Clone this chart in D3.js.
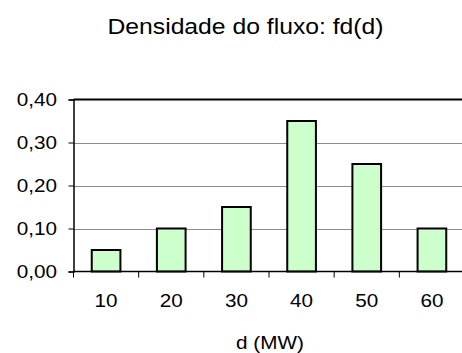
<!DOCTYPE html>
<html>
<head>
<meta charset="utf-8">
<script src="https://cdn.jsdelivr.net/npm/d3@7"></script>
<style>
  html, body { margin: 0; padding: 0; background: #fff; }
  svg { display: block; }
  text { font-family: "Liberation Sans", Arial, sans-serif; fill: #000; }
</style>
</head>
<body>
<script>
// Flow density by demand level
const categories = ["10", "20", "30", "40", "50", "60"];
const values = [0.05, 0.10, 0.15, 0.35, 0.25, 0.10];
const yTicks = [0, 0.1, 0.2, 0.3, 0.4];
const titleText = "Densidade do fluxo: fd(d)";
const xAxisTitle = "d (MW)";

const W = 462, H = 353;
const plot = { left: 73.5, right: 464.5, top: 99.5, bottom: 271.5 };
const stretch = 1.15; // glyphs are drawn slightly wide

const svg = d3.select("body").append("svg").attr("width", W).attr("height", H);

const x = d3.scaleBand().domain(categories).range([plot.left, plot.right]).paddingInner(0).paddingOuter(0);
const y = d3.scaleLinear().domain([0, 0.4]).range([plot.bottom, plot.top]);
const fmt = v => d3.format(".2f")(v).replace(".", ",");

// place a wide text label at (px, py)
function wideText(sel, px, py) {
  return sel.attr("x", 0).attr("y", 0)
    .attr("transform", (d, i) => `translate(${typeof px === "function" ? px(d, i) : px},${typeof py === "function" ? py(d, i) : py}) scale(${stretch},1)`);
}

// gridlines
svg.append("g").selectAll("line").data(yTicks.filter(t => t > 0 && t < 0.4)).join("line")
  .attr("x1", plot.left).attr("x2", W)
  .attr("y1", d => Math.round(y(d)) + 0.5).attr("y2", d => Math.round(y(d)) + 0.5)
  .attr("stroke", "#8c8c8c").attr("stroke-width", 1);

// top border of plot area
svg.append("line").attr("x1", plot.left).attr("x2", W)
  .attr("y1", y(0.4)).attr("y2", y(0.4)).attr("stroke", "#000").attr("stroke-width", 2);

// bars
const bw = x.bandwidth() * 0.44;
svg.append("g").selectAll("rect").data(values).join("rect")
  .attr("x", (d, i) => x(categories[i]) + (x.bandwidth() - bw) / 2)
  .attr("width", bw)
  .attr("y", d => y(d))
  .attr("height", d => y(0) - y(d))
  .attr("fill", "#ccffcc").attr("stroke", "#000").attr("stroke-width", 2);

// y axis
const yAxis = d3.axisLeft(y).tickValues(yTicks).tickFormat(fmt).tickSize(5);
const gy = svg.append("g").attr("transform", `translate(${plot.left},0)`).call(yAxis);
gy.select(".domain").attr("stroke-width", 1.5);
gy.selectAll(".tick text")
  .attr("font-size", 18).attr("font-family", "Liberation Sans, Arial, sans-serif")
  .attr("x", 0).attr("transform", `translate(-16.5,0) scale(${stretch},1)`);

// x axis: ticks on band boundaries, labels centred in bands
const gx = svg.append("g").attr("transform", `translate(0,${plot.bottom})`);
gx.append("line").attr("x1", plot.left).attr("x2", W).attr("stroke", "#000").attr("stroke-width", 1.5);
gx.selectAll(".bt").data(categories).join("line").attr("class", "bt")
  .attr("x1", d => x(d)).attr("x2", d => x(d)).attr("y1", 0).attr("y2", 6)
  .attr("stroke", "#000").attr("stroke-width", 1);
wideText(gx.selectAll(".lbl").data(categories).join("text").attr("class", "lbl"),
    d => x(d) + x.bandwidth() / 2, 35)
  .attr("text-anchor", "middle").attr("font-size", 18).text(d => d);

// titles
wideText(svg.append("text"), 245.5, 34).attr("text-anchor", "middle")
  .attr("font-size", 21.5).text(titleText);
wideText(svg.append("text"), 270, 349).attr("text-anchor", "middle")
  .attr("font-size", 18).text(xAxisTitle);
</script>
</body>
</html>
